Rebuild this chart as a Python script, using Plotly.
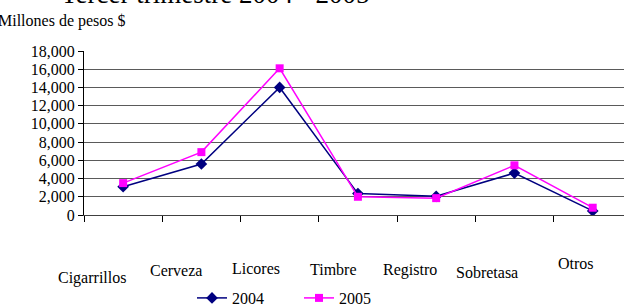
import plotly.graph_objects as go

categories = ["Cigarrillos", "Cerveza", "Licores", "Timbre", "Registro", "Sobretasa", "Otros"]
values_2004 = [3100, 5600, 14000, 2350, 2050, 4600, 450]
values_2005 = [3500, 6900, 16100, 2000, 1850, 5450, 800]
y_ticks = [0, 2000, 4000, 6000, 8000, 10000, 12000, 14000, 16000, 18000]
title_text = "Tercer trimestre 2004 - 2005"
unit_text = "Millones de pesos $"

# label placement (figure pixels) for the staggered category captions
label_px = [92, 176, 256, 333, 410, 487, 576]
label_py = [278, 270, 268, 269, 270, 272, 263]

W, H = 624, 304
L, R, T, B = 84, 0, 51, 89
pw, ph = W - L - R, H - T - B

FONT = "Liberation Serif, Times New Roman, serif"

fig = go.Figure()
fig.add_trace(go.Scatter(
    x=categories, y=values_2004, name="2004", mode="lines+markers",
    line=dict(color="#000080", width=1.5),
    marker=dict(symbol="diamond", size=9, color="#000080"),
))
fig.add_trace(go.Scatter(
    x=categories, y=values_2005, name="2005", mode="lines+markers",
    line=dict(color="#FF00FF", width=1.5),
    marker=dict(symbol="square", size=8, color="#FF00FF"),
))

annotations = []
for cat, px, py in zip(categories, label_px, label_py):
    annotations.append(dict(
        text=cat, xref="paper", yref="paper",
        x=(px - L) / pw, y=(H - B - py) / ph,
        xanchor="center", yanchor="middle", showarrow=False,
        font=dict(family=FONT, size=16, color="black"),
    ))
annotations.append(dict(
    text=unit_text, xref="paper", yref="paper",
    x=(-4 - L) / pw, y=(H - B - 21) / ph,
    xanchor="left", yanchor="middle", showarrow=False,
    font=dict(family=FONT, size=16, color="black"),
))
annotations.append(dict(
    text=title_text, xref="paper", yref="paper",
    x=(215 - L) / pw, y=(H - B - (-6)) / ph,
    xanchor="center", yanchor="middle", showarrow=False,
    font=dict(family=FONT, size=27, color="black"),
))

fig.update_layout(
    width=W, height=H,
    margin=dict(l=L, r=R, t=T, b=B, pad=0, autoexpand=False),
    paper_bgcolor="white", plot_bgcolor="white",
    showlegend=True,
    legend=dict(
        orientation="h", x=(192 - L) / pw, y=(H - B - 298) / ph,
        xanchor="left", yanchor="middle",
        font=dict(family=FONT, size=16, color="black"),
        entrywidth=62, entrywidthmode="pixels",
        bgcolor="rgba(0,0,0,0)",
    ),
    annotations=annotations,
    font=dict(family=FONT, size=16, color="black"),
)
fig.update_xaxes(
    type="category", categoryorder="array", categoryarray=categories,
    range=[-0.5, 6.4], tickson="boundaries",
    showticklabels=False, ticks="outside", ticklen=6, tickcolor="black",
    showgrid=False, showline=True, linecolor="#404040", linewidth=1,
    zeroline=False, fixedrange=True,
)
fig.update_yaxes(
    range=[0, 18000], tickvals=y_ticks, tickformat=",",
    ticks="outside", ticklen=5, tickcolor="black",
    showgrid=True, gridcolor="#5a5a5a", gridwidth=1,
    showline=True, linecolor="black", linewidth=1,
    zeroline=False,
    tickfont=dict(family=FONT, size=16, color="black"),
)

fig.write_html(
    "out.html",
    config={"displayModeBar": False},
    post_script="document.body.style.margin='0';document.body.style.overflow='hidden';",
)
